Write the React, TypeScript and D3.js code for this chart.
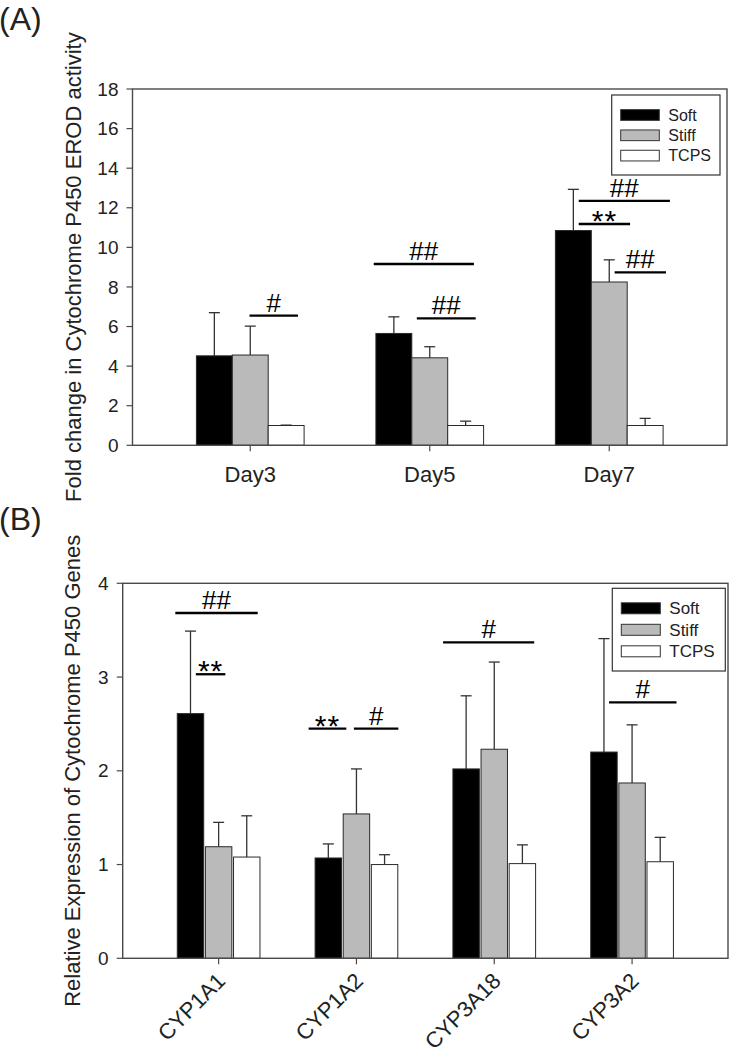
import React from "react";
import * as d3 from "d3";

// ---------- Data ----------
const seriesNames = ["Soft", "Stiff", "TCPS"];

const daysA = ["Day3", "Day5", "Day7"];
const softA = [4.52, 5.65, 10.85];
const softASd = [2.18, 0.84, 2.08];
const stiffA = [4.56, 4.42, 8.25];
const stiffASd = [1.46, 0.56, 1.12];
const tcpsA = [1.0, 1.0, 1.0];
const tcpsASd = [0.02, 0.22, 0.36];
const ticksA = [0, 2, 4, 6, 8, 10, 12, 14, 16, 18];

const genesB = ["CYP1A1", "CYP1A2", "CYP3A18", "CYP3A2"];
const softB = [2.61, 1.07, 2.02, 2.2];
const softBSd = [0.88, 0.15, 0.78, 1.21];
const stiffB = [1.19, 1.54, 2.23, 1.87];
const stiffBSd = [0.26, 0.48, 0.93, 0.62];
const tcpsB = [1.08, 1.0, 1.01, 1.03];
const tcpsBSd = [0.44, 0.105, 0.2, 0.26];
const ticksB = [0, 1, 2, 3, 4];

// significance marks: [group, from (bar steps rel. to group centre), to, level, label]
const sigA: [number, number, number, number, string][] = [
  [0, -0.02, 1.33, 6.55, "#"],
  [1, -1.56, 1.23, 9.16, "##"],
  [1, -0.36, 1.28, 6.41, "##"],
  [2, -0.85, 1.69, 12.35, "##"],
  [2, -0.85, 0.58, 11.18, "**"],
  [2, 0.15, 1.58, 8.74, "##"],
];
const sigB: [number, number, number, number, string][] = [
  [0, -1.54, 1.39, 3.683, "##"],
  [0, -0.81, 0.24, 3.03, "**"],
  [1, -1.7, -0.36, 2.45, "**"],
  [1, -0.09, 1.49, 2.45, "#"],
  [2, -1.82, 1.42, 3.37, "#"],
  [3, -0.82, 1.58, 2.73, "#"],
];

const FONT = "'Liberation Sans', Arial, Helvetica, sans-serif";
const fills = ["#000000", "#bababa", "#ffffff"];

type PanelProps = {
  cats: string[];
  values: number[][];
  sds: number[][];
  ticks: number[];
  yMax: number;
  sig: [number, number, number, number, string][];
  left: number;
  right: number;
  top: number;
  bottom: number;
  pad: number;
  innerPad: number;
  title: string;
  titleX: number;
  rotateLabels: boolean;
  legend: { x: number; y: number; w: number; h: number; font: number; rowGap: number; firstRow: number; sw: number; sh: number };
};

function Panel(p: PanelProps) {
  const x = d3.scalePoint<string>().domain(p.cats).range([p.left, p.right]).padding(p.pad);
  const groupW = x.step() * 0.6;
  const xs = d3
    .scaleBand<string>()
    .domain(seriesNames)
    .range([-groupW / 2, groupW / 2])
    .paddingInner(p.innerPad);
  const y = d3.scaleLinear().domain([0, p.yMax]).range([p.bottom, p.top]);
  const pitch = xs.step();
  const bw = xs.bandwidth();
  const titleY = (p.top + p.bottom) / 2;
  const L = p.legend;

  return (
    <g fontFamily={FONT}>
      {/* error bars */}
      {p.cats.map((c, i) =>
        seriesNames.map((s, j) => {
          const cx = (x(c) as number) + (xs(s) as number) + bw / 2;
          const v = p.values[j][i];
          const e = v + p.sds[j][i];
          return (
            <g key={`e${i}${j}`} stroke="#333" strokeWidth={1.3}>
              <line x1={cx} x2={cx} y1={y(v)} y2={y(e)} />
              <line x1={cx - 5.5} x2={cx + 5.5} y1={y(e)} y2={y(e)} />
            </g>
          );
        })
      )}
      {/* bars */}
      {p.cats.map((c, i) =>
        seriesNames.map((s, j) => {
          const bx = (x(c) as number) + (xs(s) as number);
          const v = p.values[j][i];
          return (
            <rect
              key={`b${i}${j}`}
              x={bx}
              y={y(v)}
              width={bw}
              height={y(0) - y(v)}
              fill={fills[j]}
              stroke="#2a2a2a"
              strokeWidth={1}
            />
          );
        })
      )}
      {/* frame */}
      <rect x={p.left} y={p.top} width={p.right - p.left} height={p.bottom - p.top} fill="none" stroke="#4a4a4a" strokeWidth={1.4} />
      {/* y ticks */}
      {p.ticks.map((t) => (
        <g key={`yt${t}`}>
          <line x1={p.left - 6} x2={p.left} y1={y(t)} y2={y(t)} stroke="#4a4a4a" strokeWidth={1.2} />
          <text x={p.left - 14} y={y(t)} dy="0.35em" textAnchor="end" fontSize={19} fill="#222">
            {t}
          </text>
        </g>
      ))}
      {/* x ticks + labels */}
      {p.cats.map((c) => {
        const cx = x(c) as number;
        return (
          <g key={`xt${c}`}>
            <line x1={cx} x2={cx} y1={p.bottom} y2={p.bottom + 6} stroke="#4a4a4a" strokeWidth={1.2} />
            {p.rotateLabels ? (
              <text
                transform={`translate(${cx + 8},${p.bottom + 24}) rotate(-45)`}
                textAnchor="end"
                fontSize={22}
                fill="#222"
              >
                {c}
              </text>
            ) : (
              <text x={cx} y={p.bottom + 37} textAnchor="middle" fontSize={22} fill="#222">
                {c}
              </text>
            )}
          </g>
        );
      })}
      {/* y title */}
      <text
        transform={`translate(${p.titleX},${titleY}) rotate(-90)`}
        textAnchor="middle"
        dy="0.35em"
        fontSize={22}
        fill="#222"
      >
        {p.title}
      </text>
      {/* significance */}
      {p.sig.map(([g, a, b, lv, lab], k) => {
        const cx = x(p.cats[g]) as number;
        const x1 = cx + a * pitch;
        const x2 = cx + b * pitch;
        const ly = y(lv);
        const star = lab.startsWith("*");
        return (
          <g key={`s${k}`}>
            <line x1={x1} x2={x2} y1={ly} y2={ly} stroke="#000" strokeWidth={2.3} />
            <text
              x={(x1 + x2) / 2}
              y={star ? ly + 7 : ly - 4}
              textAnchor="middle"
              fontSize={star ? 30 : 26}
              letterSpacing={star ? 1 : 0}
              fill="#000"
            >
              {lab}
            </text>
          </g>
        );
      })}
      {/* legend */}
      <rect x={L.x} y={L.y} width={L.w} height={L.h} fill="#fff" stroke="#333" strokeWidth={1.2} />
      {seriesNames.map((s, j) => {
        const ry = L.y + L.firstRow + j * L.rowGap;
        return (
          <g key={`l${s}`}>
            <rect x={L.x + 9} y={ry - L.sh / 2} width={L.sw} height={L.sh} fill={fills[j]} stroke="#333" strokeWidth={1} />
            <text x={L.x + 9 + L.sw + 9} y={ry} dy="0.35em" fontSize={L.font} fill="#222">
              {s}
            </text>
          </g>
        );
      })}
    </g>
  );
}

export default function App() {
  return (
    <svg
      width={731}
      height={1050}
      viewBox="0 0 731 1050"
      style={{ position: "absolute", left: 0, top: 0, background: "#fff" }}
    >
      <rect x={0} y={0} width={731} height={1050} fill="#fff" />
      <text x={-1} y={30} fontSize={32} fontFamily={FONT} fill="#222">
        (A)
      </text>
      <text x={-1} y={530} fontSize={32} fontFamily={FONT} fill="#222">
        (B)
      </text>
      <Panel
        cats={daysA}
        values={[softA, stiffA, tcpsA]}
        sds={[softASd, stiffASd, tcpsASd]}
        ticks={ticksA}
        yMax={18}
        sig={sigA}
        left={132.5}
        right={727}
        top={89}
        bottom={445.3}
        pad={0.656}
        innerPad={0}
        title="Fold change in Cytochrome P450 EROD activity"
        titleX={73}
        rotateLabels={false}
        legend={{ x: 611.7, y: 95, w: 108.3, h: 80, font: 16, rowGap: 20.3, firstRow: 20, sw: 38.6, sh: 10.7 }}
      />
      <Panel
        cats={genesB}
        values={[softB, stiffB, tcpsB]}
        sds={[softBSd, stiffBSd, tcpsBSd]}
        ticks={ticksB}
        yMax={4}
        sig={sigB}
        left={122.7}
        right={728}
        top={583.3}
        bottom={958.3}
        pad={0.696}
        innerPad={0.06}
        title="Relative Expression of Cytochrome P450 Genes"
        titleX={72}
        rotateLabels={true}
        legend={{ x: 612.3, y: 588.3, w: 113, h: 82.7, font: 17, rowGap: 21.5, firstRow: 20, sw: 39, sh: 11 }}
      />
    </svg>
  );
}
